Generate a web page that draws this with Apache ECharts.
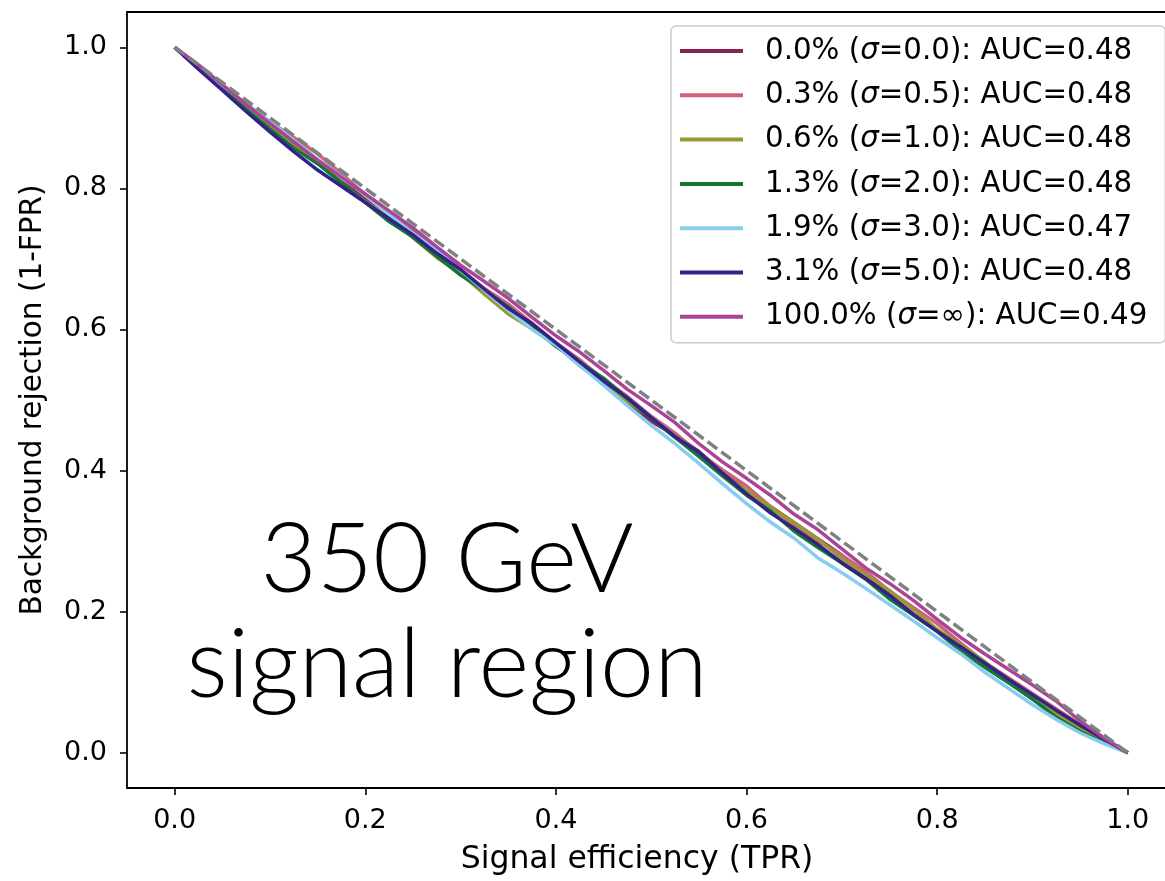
<!DOCTYPE html>
<html>
<head>
<meta charset="utf-8">
<script src="https://cdn.jsdelivr.net/npm/echarts@6/dist/echarts.min.js"></script>
<style>html,body{margin:0;padding:0;background:#fff;}#c{width:1165px;height:881px;}</style>
</head>
<body>
<div id="c"></div>
<script>
// Signal efficiency (TPR) sample points
const tpr = [0, 0.025, 0.05, 0.075, 0.1, 0.125, 0.15, 0.175, 0.2, 0.225, 0.25, 0.275, 0.3, 0.325, 0.35, 0.375, 0.4, 0.425, 0.45, 0.475, 0.5, 0.525, 0.55, 0.575, 0.6, 0.625, 0.65, 0.675, 0.7, 0.725, 0.75, 0.775, 0.8, 0.825, 0.85, 0.875, 0.9, 0.925, 0.95, 0.975, 1.0];

// Background rejection (1-FPR) per series
const rej_s0 = [1.000, 0.971, 0.943, 0.915, 0.888, 0.864, 0.836, 0.809, 0.787, 0.760, 0.732, 0.708, 0.681, 0.654, 0.632, 0.605, 0.578, 0.549, 0.526, 0.497, 0.470, 0.450, 0.427, 0.398, 0.371, 0.349, 0.326, 0.303, 0.280, 0.252, 0.224, 0.196, 0.173, 0.145, 0.122, 0.100, 0.076, 0.053, 0.032, 0.015, 0.000];
const rej_s1 = [1.000, 0.973, 0.945, 0.918, 0.894, 0.872, 0.849, 0.821, 0.791, 0.763, 0.740, 0.712, 0.685, 0.658, 0.636, 0.609, 0.581, 0.557, 0.529, 0.505, 0.477, 0.453, 0.425, 0.401, 0.378, 0.349, 0.322, 0.300, 0.280, 0.257, 0.229, 0.206, 0.183, 0.155, 0.128, 0.106, 0.084, 0.062, 0.040, 0.019, 0.000];
const rej_s2 = [1.000, 0.971, 0.942, 0.914, 0.887, 0.860, 0.836, 0.808, 0.781, 0.759, 0.730, 0.702, 0.679, 0.650, 0.622, 0.601, 0.578, 0.555, 0.526, 0.498, 0.475, 0.447, 0.424, 0.395, 0.371, 0.348, 0.326, 0.303, 0.275, 0.252, 0.230, 0.203, 0.175, 0.152, 0.129, 0.101, 0.078, 0.056, 0.035, 0.016, 0.000];
const rej_s3 = [1.000, 0.970, 0.941, 0.912, 0.884, 0.857, 0.835, 0.808, 0.780, 0.753, 0.731, 0.704, 0.677, 0.655, 0.632, 0.604, 0.576, 0.553, 0.531, 0.502, 0.474, 0.447, 0.420, 0.392, 0.365, 0.343, 0.314, 0.291, 0.269, 0.246, 0.218, 0.195, 0.172, 0.144, 0.121, 0.099, 0.076, 0.050, 0.030, 0.014, 0.000];
const rej_s4 = [1.000, 0.973, 0.946, 0.920, 0.895, 0.868, 0.841, 0.817, 0.790, 0.763, 0.736, 0.712, 0.684, 0.655, 0.627, 0.600, 0.578, 0.549, 0.521, 0.492, 0.464, 0.438, 0.410, 0.381, 0.353, 0.327, 0.304, 0.276, 0.255, 0.233, 0.210, 0.187, 0.163, 0.140, 0.114, 0.091, 0.068, 0.047, 0.028, 0.013, 0.000];
const rej_s5 = [1.000, 0.969, 0.939, 0.909, 0.880, 0.852, 0.826, 0.803, 0.780, 0.757, 0.734, 0.708, 0.685, 0.657, 0.630, 0.608, 0.581, 0.554, 0.527, 0.503, 0.475, 0.448, 0.426, 0.396, 0.367, 0.340, 0.318, 0.295, 0.269, 0.247, 0.223, 0.196, 0.172, 0.150, 0.127, 0.104, 0.082, 0.060, 0.039, 0.019, 0.000];
const rej_s6 = [1.000, 0.975, 0.947, 0.919, 0.892, 0.866, 0.840, 0.816, 0.792, 0.768, 0.744, 0.717, 0.691, 0.668, 0.644, 0.617, 0.591, 0.568, 0.542, 0.515, 0.492, 0.468, 0.438, 0.412, 0.389, 0.365, 0.338, 0.316, 0.289, 0.262, 0.240, 0.216, 0.189, 0.163, 0.140, 0.118, 0.096, 0.073, 0.045, 0.021, 0.000];

const seriesNames = [
  '0.0% (σ=0.0): AUC=0.48',
  '0.3% (σ=0.5): AUC=0.48',
  '0.6% (σ=1.0): AUC=0.48',
  '1.3% (σ=2.0): AUC=0.48',
  '1.9% (σ=3.0): AUC=0.47',
  '3.1% (σ=5.0): AUC=0.48',
  '100.0% (σ=∞): AUC=0.49'
];
const seriesColors = ['#882255', '#CC6677', '#999933', '#117733', '#88CCEE', '#332288', '#AA4499'];
const seriesValues = [rej_s0, rej_s1, rej_s2, rej_s3, rej_s4, rej_s5, rej_s6];

// Random-guess reference diagonal
const diagX = [0, 1];
const diagY = [1, 0];

const tickValues = [0, 0.2, 0.4, 0.6, 0.8, 1.0];
const xTitle = 'Signal efficiency (TPR)';
const yTitle = 'Background rejection (1-FPR)';
const bigText1 = '350 GeV';
const bigText2 = 'signal region';

const FONT = 'DejaVu Sans';
const chart = echarts.init(document.getElementById('c'), null, {renderer: 'canvas'});

const series = seriesNames.map((name, k) => ({
  name: name,
  type: 'line',
  data: tpr.map((x, i) => [x, seriesValues[k][i]]),
  showSymbol: false,
  symbol: 'none',
  lineStyle: {color: seriesColors[k], width: 3.5},
  itemStyle: {color: seriesColors[k]},
  z: 2 + k,
  animation: false
}));
series.push({
  name: 'diag',
  type: 'line',
  data: diagX.map((x, i) => [x, diagY[i]]),
  showSymbol: false,
  symbol: 'none',
  lineStyle: {color: '#808080', width: 3.5, type: [12, 5]},
  z: 20,
  animation: false
});

const axisCommon = {
  axisLine: {show: true, onZero: false, lineStyle: {color: '#000', width: 1.8}},
  axisTick: {show: true, length: 7, lineStyle: {color: '#000', width: 1.6}, customValues: tickValues},
  axisLabel: {color: '#000', fontFamily: FONT, fontSize: 27, customValues: tickValues,
              formatter: v => v.toFixed(1)},
  splitLine: {show: false}
};

chart.setOption({
  animation: false,
  backgroundColor: '#fff',
  grid: {left: 127, top: 12, right: 0, bottom: 88, containLabel: false},
  xAxis: [
    Object.assign({}, axisCommon, {
      type: 'value', min: -0.05, max: 1.039, position: 'bottom',
      axisLabel: Object.assign({}, axisCommon.axisLabel, {margin: 19}),
      name: xTitle, nameLocation: 'middle', nameGap: 56,
      nameTextStyle: {color: '#000', fontFamily: FONT, fontSize: 31.5, padding: [0, 18, 0, 0]}
    }),
    {
      type: 'value', min: -0.05, max: 1.039, position: 'top',
      axisLine: {show: true, onZero: false, lineStyle: {color: '#000', width: 1.8}},
      axisTick: {show: false}, axisLabel: {show: false}, splitLine: {show: false}
    }
  ],
  yAxis: Object.assign({}, axisCommon, {
    type: 'value', min: -0.05, max: 1.05,
    axisLabel: Object.assign({}, axisCommon.axisLabel, {margin: 20}),
    name: yTitle, nameLocation: 'middle', nameGap: 79, nameRotate: 90,
    nameTextStyle: {color: '#000', fontFamily: FONT, fontSize: 29.5}
  }),
  legend: {
    data: seriesNames,
    orient: 'vertical',
    left: 671, top: 26,
    padding: [10, 18, 11, 9],
    itemGap: 14.3,
    itemWidth: 63, itemHeight: 4,
    icon: 'rect',
    backgroundColor: '#fff',
    borderColor: '#cccccc', borderWidth: 1.5, borderRadius: 5,
    formatter: name => name.replace('σ', '{i|σ}'),
    textStyle: {color: '#000', fontFamily: FONT, fontSize: 29.3, lineHeight: 30, padding: [0, 0, 0, 17],
      rich: {i: {fontStyle: 'italic', fontFamily: FONT, fontSize: 29.3, color: '#000', lineHeight: 30}}}
  },
  graphic: [
    {type: 'text', x: 447, y: 561, z: 50,
     style: {text: bigText1, fontFamily: 'Lato', fontWeight: 300, fontSize: 97, fill: '#000', align: 'center', verticalAlign: 'middle'}},
    {type: 'text', x: 447, y: 666, z: 50,
     style: {text: bigText2, fontFamily: 'Lato', fontWeight: 300, fontSize: 97, fill: '#000', align: 'center', verticalAlign: 'middle'}}
  ],
  series: series
});
</script>
</body>
</html>
